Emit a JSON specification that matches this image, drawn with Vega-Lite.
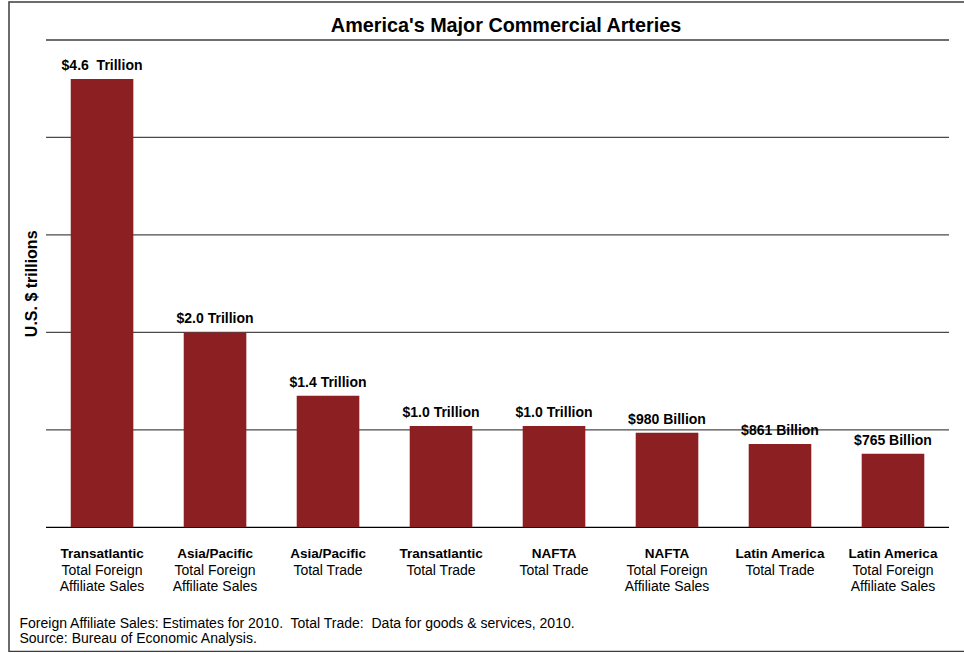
{
  "$schema": "https://vega.github.io/schema/vega-lite/v6.json",
  "autosize": {"type": "none"},
  "padding": {"left": 9, "top": 2, "right": 0, "bottom": 0},
  "width": 960,
  "height": 649.5,
  "background": "white",
  "title": {
    "text": "America's Major Commercial Arteries",
    "font": "Liberation Sans",
    "fontSize": 19.8,
    "fontWeight": "bold",
    "color": "#000000",
    "anchor": "middle",
    "frame": "group",
    "baseline": "alphabetic",
    "offset": -50,
    "dx": 17
  },
  "config": {
    "view": {"stroke": "#3c3c3c", "strokeWidth": 1.5},
    "font": "Liberation Sans",
    "text": {"font": "Liberation Sans"}
  },
  "datasets": {
    "arteries": [
      {"key": "Transatlantic Total Foreign Affiliate Sales", "region": "Transatlantic", "measure": "Total Foreign\nAffiliate Sales", "value": 4.6, "label": "$4.6\u00a0 Trillion"},
      {"key": "Asia/Pacific Total Foreign Affiliate Sales", "region": "Asia/Pacific", "measure": "Total Foreign\nAffiliate Sales", "value": 2.0, "label": "$2.0 Trillion"},
      {"key": "Asia/Pacific Total Trade", "region": "Asia/Pacific", "measure": "Total Trade", "value": 1.35, "label": "$1.4 Trillion"},
      {"key": "Transatlantic Total Trade", "region": "Transatlantic", "measure": "Total Trade", "value": 1.04, "label": "$1.0 Trillion"},
      {"key": "NAFTA Total Trade", "region": "NAFTA", "measure": "Total Trade", "value": 1.04, "label": "$1.0 Trillion"},
      {"key": "NAFTA Total Foreign Affiliate Sales", "region": "NAFTA", "measure": "Total Foreign\nAffiliate Sales", "value": 0.97, "label": "$980 Billion"},
      {"key": "Latin America Total Trade", "region": "Latin America", "measure": "Total Trade", "value": 0.855, "label": "$861 Billion"},
      {"key": "Latin America Total Foreign Affiliate Sales", "region": "Latin America", "measure": "Total Foreign\nAffiliate Sales", "value": 0.755, "label": "$765 Billion"}
    ],
    "gridlines": [
      {"v": 0}, {"v": 1}, {"v": 2}, {"v": 3}, {"v": 4}, {"v": 5}
    ]
  },
  "layer": [
    {
      "data": {"name": "gridlines"},
      "mark": {"type": "rule"},
      "encoding": {
        "y": {"field": "v", "type": "quantitative"},
        "x": {"datum": "Transatlantic Total Foreign Affiliate Sales", "bandPosition": -0.395},
        "x2": {"datum": "Latin America Total Foreign Affiliate Sales", "bandPosition": 1.395},
        "color": {
          "condition": [
            {"test": "datum.v === 0", "value": "#000000"},
            {"test": "datum.v === 5", "value": "#6e6e6e"}
          ],
          "value": "#4a4a4a"
        },
        "strokeWidth": {
          "condition": {"test": "datum.v === 5", "value": 2.2},
          "value": 1.3
        }
      }
    },
    {
      "data": {"name": "arteries"},
      "mark": {"type": "bar", "color": "#8c1f22"},
      "encoding": {
        "x": {
          "field": "key",
          "type": "nominal",
          "sort": null,
          "scale": {
            "domain": [
              "Transatlantic Total Foreign Affiliate Sales",
              "Asia/Pacific Total Foreign Affiliate Sales",
              "Asia/Pacific Total Trade",
              "Transatlantic Total Trade",
              "NAFTA Total Trade",
              "NAFTA Total Foreign Affiliate Sales",
              "Latin America Total Trade",
              "Latin America Total Foreign Affiliate Sales"
            ],
            "paddingInner": 0.446, "paddingOuter": 0.471, "align": 0.58, "round": false
          },
          "axis": {
            "orient": "bottom",
            "offset": -124.2,
            "domain": false,
            "ticks": false,
            "labels": false,
            "grid": false,
            "title": [
              "Foreign Affiliate Sales: Estimates for 2010.\u00a0 Total Trade:\u00a0 Data for goods & services, 2010.",
              "Source: Bureau of Economic Analysis."
            ],
            "titleFont": "Liberation Sans",
            "titleFontSize": 14,
            "titleFontWeight": "normal",
            "titleColor": "#000000",
            "titleAnchor": "start",
            "titleAlign": "left",
            "titleBaseline": "alphabetic",
            "titleLineHeight": 15.5,
            "titleX": 10,
            "titleY": 100
          }
        },
        "y": {
          "field": "value",
          "type": "quantitative",
          "scale": {"domain": [-1.274, 5.39], "nice": false, "zero": false},
          "axis": {
            "orient": "left",
            "offset": -37,
            "domain": false,
            "ticks": false,
            "labels": false,
            "grid": false,
            "title": "U.S. $ trillions",
            "titleFont": "Liberation Sans",
            "titleFontSize": 16,
            "titleFontWeight": "bold",
            "titleColor": "#000000",
            "titleAngle": -90,
            "titleAlign": "center",
            "titleBaseline": "alphabetic",
            "titleX": -9.3,
            "titleY": 281.3
          }
        }
      }
    },
    {
      "data": {"name": "arteries"},
      "mark": {"type": "text", "font": "Liberation Sans", "fontSize": 14, "fontWeight": "bold", "baseline": "alphabetic", "align": "center", "dy": -9, "color": "#000000"},
      "encoding": {
        "x": {"field": "key", "type": "nominal", "sort": null},
        "y": {"field": "value", "type": "quantitative"},
        "text": {"field": "label"}
      }
    },
    {
      "data": {"name": "arteries"},
      "mark": {"type": "text", "font": "Liberation Sans", "fontSize": 13.5, "fontWeight": "bold", "baseline": "alphabetic", "align": "center", "dy": 31, "color": "#000000"},
      "encoding": {
        "x": {"field": "key", "type": "nominal", "sort": null},
        "y": {"datum": 0},
        "text": {"field": "region"}
      }
    },
    {
      "data": {"name": "arteries"},
      "mark": {"type": "text", "font": "Liberation Sans", "fontSize": 14, "fontWeight": "normal", "baseline": "alphabetic", "align": "center", "dy": 47.5, "lineBreak": "\n", "lineHeight": 16, "color": "#000000"},
      "encoding": {
        "x": {"field": "key", "type": "nominal", "sort": null},
        "y": {"datum": 0},
        "text": {"field": "measure"}
      }
    }
  ]
}
